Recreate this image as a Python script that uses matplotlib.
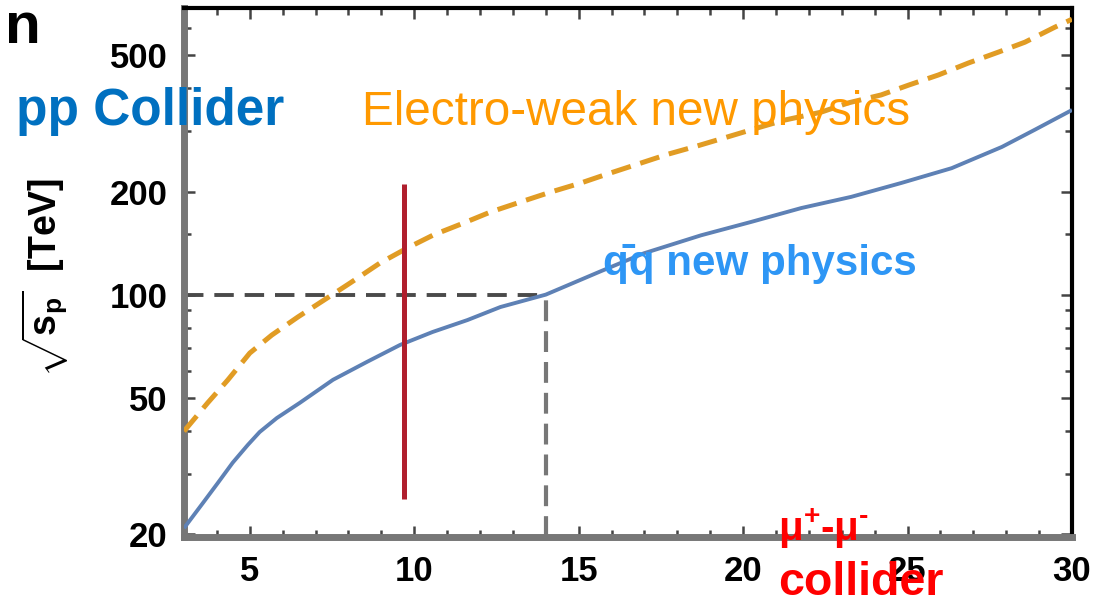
import matplotlib
matplotlib.use("Agg")
import matplotlib.pyplot as plt
from matplotlib.ticker import FixedLocator, NullFormatter

plt.rcParams['font.family'] = ['Liberation Sans', 'DejaVu Sans']
plt.rcParams['mathtext.fontset'] = 'custom'
plt.rcParams['mathtext.rm'] = 'Liberation Sans'
plt.rcParams['mathtext.it'] = 'Liberation Sans'
plt.rcParams['mathtext.bf'] = 'Liberation Sans:bold'

# ---- data ----
qq_x = [3.0, 3.57, 4.03, 4.48, 4.94, 5.30, 5.82, 6.52, 7.53, 8.56, 9.57, 10.56,
        11.62, 12.62, 14.0, 15.67, 16.98, 18.72, 20.24, 21.77, 23.29, 24.82,
        26.34, 27.87, 28.87, 30.0]
qq_sqrt_s = [20.8, 24.6, 28.2, 32.3, 36.4, 39.7, 43.6, 48.3, 56.4, 63.6, 71.3, 77.8,
             84.3, 92.0, 100.0, 117.0, 132.0, 149.0, 163.0, 179.0, 193.0, 212.0,
             234.0, 270.0, 303.0, 346.0]

ew_x = [3.0, 3.11, 3.72, 4.33, 5.00, 5.67, 6.46, 7.35, 8.05, 8.96, 9.79, 10.58, 11.50,
        12.32, 13.23, 14.15, 15.06, 15.75, 16.88, 17.71, 18.62, 19.54, 20.45,
        21.24, 22.37, 23.20, 24.20, 25.03, 25.94, 26.86, 27.77, 28.57, 29.48, 30.0]
ew_sqrt_s = [39.9, 41.1, 48.3, 56.3, 67.5, 76.2, 86.0, 97.7, 108.1, 123.7, 136.8, 149.3, 161.8,
             174.3, 186.4, 199.3, 211.7, 223.0, 242.0, 257.0, 272.0, 289.0, 307.0,
             323.0, 341.0, 363.0, 383.0, 409.0, 438.0, 475.0, 511.0, 546.0, 604.0, 637.0]

red_x = 9.7
red_span = [25.3, 210.0]
ref_x = 14.0
ref_y = 100.0

x_major = [5, 10, 15, 20, 25, 30]
x_minor = [4, 6, 7, 8, 9, 11, 12, 13, 14, 16, 17, 18, 19, 21, 22, 23, 24, 26, 27, 28, 29]
y_major = [20, 50, 100, 200, 500]
y_minor = [30, 40, 60, 70, 80, 90, 150, 300, 400, 600]
xlim = (3, 30)
ylim = (19.6, 687)

# ---- figure ----
fig = plt.figure(figsize=(10.96, 6.03), dpi=100)
ax = fig.add_axes([184/1096, 66/603, (1072-184)/1096, (537-8)/603])
ax.set_yscale('log')
ax.set_xlim(*xlim)
ax.set_ylim(*ylim)

ax.plot(qq_x, qq_sqrt_s, color='#5e81b5', lw=2.8, solid_capstyle='butt',
        solid_joinstyle='round', zorder=3)
ax.plot(ew_x, ew_sqrt_s, color='#e19c24', lw=3.6, dashes=(4.0, 2.0), zorder=3)
ax.vlines(red_x, red_span[0], red_span[1], color='#b01f2e', lw=3.6, zorder=4)
ax.hlines(ref_y, xlim[0], ref_x, color='#4a4a4a', lw=2.8, linestyles=(0, (5.0, 2.8)), zorder=2)
ax.vlines(ref_x, ylim[0], ref_y, color='#777777', lw=3.0, linestyles=(0, (5.0, 2.4)), zorder=2)

# spines
for s in ['left', 'bottom']:
    ax.spines[s].set_color('#777777')
    ax.spines[s].set_linewidth(5)
for s in ['top', 'right']:
    ax.spines[s].set_color('black')
    ax.spines[s].set_linewidth(3)

ax.xaxis.set_major_locator(FixedLocator(x_major))
ax.xaxis.set_minor_locator(FixedLocator(x_minor))
ax.yaxis.set_major_locator(FixedLocator(y_major))
ax.yaxis.set_minor_locator(FixedLocator(y_minor))
ax.set_xticklabels([str(v) for v in x_major])
ax.set_yticklabels([str(v) for v in y_major])
ax.yaxis.set_minor_formatter(NullFormatter())
ax.xaxis.set_minor_formatter(NullFormatter())

ax.tick_params(which='both', direction='in', top=True, right=True,
               color='#444444', width=1.8, labelsize=25)
ax.tick_params(which='major', length=8)
ax.tick_params(which='minor', length=5)
ax.tick_params(axis='x', which='major', pad=13)
ax.tick_params(axis='y', which='major', pad=12)
for lbl in ax.get_xticklabels() + ax.get_yticklabels():
    lbl.set_fontweight('bold')

ax.set_ylabel(r'$\sqrt{\mathbf{s}_{\mathbf{p}}}$  [TeV]', fontsize=27, fontweight='bold')
ax.yaxis.set_label_coords(-0.127, 0.49)

# ---- annotations ----
def fx(px):
    return px / 1096

def fy(py):
    return 1 - py / 603

fig.text(fx(5), fy(43), 'n', fontsize=42, fontweight='bold', color='black',
         ha='left', va='baseline')
fig.text(fx(16), fy(125), 'pp Collider', fontsize=37, fontweight='bold',
         color='#0070c0', ha='left', va='baseline', zorder=10)
fig.text(fx(362), fy(125), 'Electro-weak new physics', fontsize=34.3,
         color='#ff9900', ha='left', va='baseline', zorder=10)
fig.text(fx(603), fy(275), 'q\u0304q new physics', fontsize=30.3, fontweight='bold',
         color='#2e96f5', ha='left', va='baseline', zorder=10)
fig.text(fx(778), fy(541),
         '$\\mathbf{\\mu}^{\\mathbf{+}}$-$\\mathbf{\\mu}^{\\mathbf{\u2010}}$',
         fontsize=29, fontweight='bold', color='#ff0000', ha='left', va='baseline', zorder=10)
fig.text(fx(778), fy(595), 'collider', fontsize=33.5, fontweight='bold',
         color='#ff0000', ha='left', va='baseline', zorder=10)

fig.savefig('out.png', dpi=100)
